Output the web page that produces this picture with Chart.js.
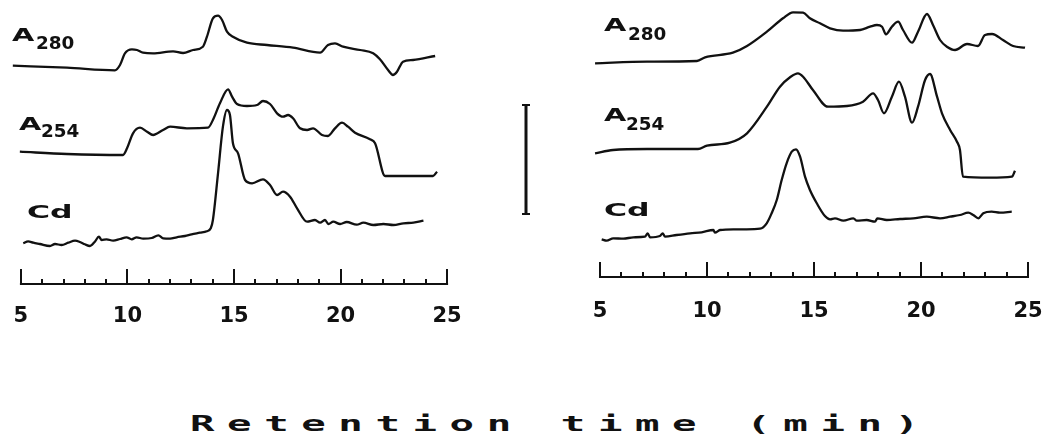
<!DOCTYPE html>
<html>
<head>
<meta charset="utf-8">
<script src="https://cdn.jsdelivr.net/npm/chart.js@4.4.1/dist/chart.umd.min.js"></script>
<style>
  html, body { margin: 0; padding: 0; background: #fff; width: 1054px; height: 435px; overflow: hidden; }
  #page { position: relative; width: 1054px; height: 435px; }
  canvas { position: absolute; top: 0; }
  .lbl { position: absolute; white-space: nowrap; color: #111; font-family: "DejaVu Sans"; font-weight: bold;
         line-height: 1; transform-origin: 0 0; }
  #title { position: absolute; white-space: nowrap; color: #111; font-family: "DejaVu Sans Mono"; font-weight: bold;
           line-height: 1; transform-origin: 0 0; }
</style>
</head>
<body>
<div id="page">
  <canvas id="leftChart" width="540" height="345" style="left:0px"></canvas>
  <canvas id="rightChart" width="494" height="345" style="left:560px"></canvas>
</div>
<script>
// ---------------- DATA ----------------
// Retention time axis
const X_MIN = 4.3, X_MAX = 25.7;
const TICK_VALUES = [5,6,7,8,9,10,11,12,13,14,15,16,17,18,19,20,21,22,23,24,25];
const LABELED_TICKS = [5, 10, 15, 20, 25];
const TRACE_NAMES = [['A', '280'], ['A', '254'], ['Cd', '']];
const AXIS_TITLE = 'Retention time (min)';

// Left panel traces (time in min, signal in arbitrary detector units)
const LEFT_A280_T = [4.62,7.16,9.41,9.65,9.88,10.21,10.45,10.73,11.20,12.14,12.61,13.08,13.54,13.73,14.01,14.25,14.44,14.67,14.95,15.61,16.55,17.77,19.04,19.41,19.74,20.12,20.92,21.53,21.85,22.23,22.46,22.65,22.93,23.40,24.44];
const LEFT_A280_V = [4.3,2.3,-0.3,5,16.7,20.7,20,17.3,16.7,18.7,17,20,23.3,33.3,51.7,54.3,50,38.3,33.3,27.3,25,22.3,17.3,25,26.7,23.3,20,16.7,10.7,0,-5,-1.7,8.3,10,14];

const LEFT_A254_T = [4.95,7.16,9.79,9.98,10.26,10.59,10.92,11.20,11.67,12.00,12.79,13.78,14.01,14.34,14.72,14.91,15.14,15.61,16.08,16.36,16.69,17.02,17.30,17.54,17.77,18.10,18.43,18.71,19.13,19.41,19.74,20.07,20.35,20.68,21.38,21.62,22.09,24.34,24.53];
const LEFT_A254_V = [3.3,1,0,6.7,21.7,27.3,23.3,20,25,28.3,26.7,27.3,35,51.7,65.7,58.3,51,49,50,54,51,41.7,38.3,40,36.7,26.7,25,26.7,20,19,26.7,32.3,28.3,22.3,15.7,11.7,-21,-21,-16.7];

const LEFT_CD_T = [5.11,5.34,5.58,5.89,6.36,6.60,6.91,7.22,7.54,7.77,8.00,8.24,8.47,8.66,8.79,9.02,9.33,9.65,9.96,10.20,10.43,10.74,11.14,11.45,11.68,12.00,12.31,12.70,13.01,13.40,13.72,13.91,14.01,14.25,14.48,14.67,14.81,14.95,15.19,15.52,15.85,16.36,16.69,17.02,17.30,17.63,17.96,18.43,18.80,19.04,19.27,19.43,19.66,19.98,20.29,20.76,21.07,21.54,22.01,22.48,22.95,23.42,23.89,24.44];
const LEFT_CD_V = [-3.3,-1.3,-2.7,-4,-6,-4,-5,-2.7,-0.7,-2,-4.3,-6,-1.7,3.3,0,0.7,-0.7,1,2.7,0.7,2.7,1.3,2,4.7,1.7,1.3,2.7,4,5.7,7.3,8.7,11.7,20,66.7,113.3,130,125,96.7,86.7,60,56.7,60.7,55,45,48.3,43.3,31.7,18.3,20,17.3,20,16,18.3,16,18,15.3,17.3,15,16,15,16.7,17.3,19.3];

// Right panel traces
const RIGHT_A280_T = [4.77,7.20,9.53,9.91,11.21,11.87,12.80,13.55,14.02,14.49,14.81,15.28,15.75,16.36,17.15,17.62,17.94,18.18,18.36,18.64,18.93,19.16,19.58,19.86,20.28,20.56,20.89,21.21,21.59,22.15,22.66,22.99,23.32,23.83,24.30,24.86];
const RIGHT_A280_V = [-1.3,0.3,1,4.7,9.3,16,30.3,43.7,49.7,49.3,43.7,38.7,33.7,31.3,32,35.3,37,35.3,27.7,35.3,40.3,32,19.3,30.3,48,37,22,15.3,12,18,16,27,28,22,16,14.3];

const RIGHT_A254_T = [4.77,5.61,7.20,9.58,10.00,11.07,11.87,12.80,13.41,13.88,14.25,14.49,14.95,15.65,16.54,17.29,17.76,17.99,18.27,18.64,18.97,19.25,19.58,19.86,20.19,20.42,20.75,20.98,21.36,21.68,21.82,21.96,23.22,24.25,24.39];
const RIGHT_A254_V = [-3.3,0,1,1,4.3,7.3,16.7,43.3,63.3,72.7,76.7,73.3,60,43.3,44,48.3,56.7,50,36.7,53.3,68.3,53.3,27.3,43.3,70,76,53.3,36.7,20,8.3,0,-26.7,-27.7,-26.7,-20.7];

const RIGHT_CD_T = [5.08,5.31,5.62,6.09,6.56,7.10,7.23,7.34,7.80,7.93,8.04,8.58,9.21,9.75,10.30,10.37,10.61,11.23,11.85,12.48,12.79,13.02,13.26,13.49,13.72,13.96,14.16,14.35,14.58,14.81,15.13,15.51,15.75,15.98,16.37,16.84,17.00,17.46,17.85,17.96,18.40,19.02,19.64,20.27,20.89,21.36,21.82,22.21,22.44,22.68,22.91,23.30,23.69,24.24];
const RIGHT_CD_V = [-4.3,-5.7,-3.3,-3.7,-2.3,-1.7,1.7,-2.3,-1,1.7,-1.7,0,1.7,2.7,5,2.3,5,5.7,5.7,6.3,11.7,21.7,35,55,71.7,83.3,85.7,78.3,58.3,45,31.7,19,15.7,16.7,14.3,16.7,14.3,15,13.3,16.7,15,16,16.7,18.3,16.7,18.3,20,22.3,20,16.7,21.7,23.3,22.3,23.3];

// Vertical scale bar (detector units)
const SCALE_BAR_UNITS = 109;

// ---------------- LAYOUT / STYLE ----------------
const INK = '#111';
const LINE_W = 2.3;
const LEFT_LAYOUT = { padLeft: 6, padRight: 78, plotTop: 284, canvasH: 345, tickPad: 20,
  offsets: [214, 129, 44], scaleBar: { t: 28.7, base: 70 } };
const RIGHT_LAYOUT = { padLeft: 25, padRight: 11, plotTop: 277, canvasH: 345, tickPad: 22,
  offsets: [215, 127, 42], scaleBar: null };

const axisPlugin = {
  id: 'tickAxis',
  afterDatasetsDraw(chart, args, opts) {
    const xs = chart.scales.x, ys = chart.scales.y, ctx = chart.ctx;
    const y0 = ys.getPixelForValue(0);
    ctx.save();
    ctx.strokeStyle = INK;
    ctx.lineWidth = 2;
    ctx.beginPath();
    const first = xs.ticks[0].value, last = xs.ticks[xs.ticks.length - 1].value;
    ctx.moveTo(xs.getPixelForValue(first) - 1, y0);
    ctx.lineTo(xs.getPixelForValue(last) + 1, y0);
    xs.ticks.forEach(t => {
      const px = Math.round(xs.getPixelForValue(t.value));
      const major = LABELED_TICKS.includes(t.value);
      ctx.moveTo(px, y0);
      ctx.lineTo(px, y0 - (major ? 15 : 5));
    });
    ctx.stroke();
    if (opts && opts.scaleBar) {
      const sb = opts.scaleBar;
      const px = Math.round(xs.getPixelForValue(sb.t));
      const yb = ys.getPixelForValue(sb.base);
      const yt = ys.getPixelForValue(sb.base + SCALE_BAR_UNITS);
      ctx.lineWidth = 3;
      ctx.beginPath();
      ctx.moveTo(px, yb); ctx.lineTo(px, yt);
      ctx.stroke();
      ctx.lineWidth = 2;
      ctx.beginPath();
      ctx.moveTo(px - 4, yb); ctx.lineTo(px + 4, yb);
      ctx.moveTo(px - 4, yt); ctx.lineTo(px + 4, yt);
      ctx.stroke();
    }
    ctx.restore();
  }
};

function series(T, V, offset) {
  return {
    data: T.map((t, i) => ({ x: t, y: V[i] + offset })),
    borderColor: INK, borderWidth: LINE_W, pointRadius: 0, fill: false,
    cubicInterpolationMode: 'monotone', clip: false
  };
}

function makeChart(id, traces, L) {
  return new Chart(document.getElementById(id), {
    type: 'line',
    data: { datasets: traces.map((tr, i) => series(tr[0], tr[1], L.offsets[i])) },
    plugins: [axisPlugin],
    options: {
      responsive: false, animation: false, devicePixelRatio: 1, events: [],
      layout: { padding: { left: L.padLeft, right: L.padRight, top: 0, bottom: 0 } },
      plugins: { legend: { display: false }, tooltip: { enabled: false }, tickAxis: { scaleBar: L.scaleBar } },
      scales: {
        x: {
          type: 'linear', min: X_MIN, max: X_MAX, bounds: 'data',
          afterBuildTicks: s => { s.ticks = TICK_VALUES.map(v => ({ value: v })); },
          afterFit: s => { s.height = L.canvasH - L.plotTop; s.paddingLeft = 0; s.paddingRight = 0; },
          grid: { display: false, drawTicks: false },
          border: { display: false },
          ticks: {
            autoSkip: false, maxRotation: 0, minRotation: 0, padding: L.tickPad, color: INK,
            font: { family: '"DejaVu Sans"', weight: 'bold', size: 21 },
            callback: v => LABELED_TICKS.includes(v) ? String(v) : ''
          }
        },
        y: { type: 'linear', display: false, min: 0, max: L.plotTop }
      }
    }
  });
}

makeChart('leftChart', [[LEFT_A280_T, LEFT_A280_V], [LEFT_A254_T, LEFT_A254_V], [LEFT_CD_T, LEFT_CD_V]], LEFT_LAYOUT);
makeChart('rightChart', [[RIGHT_A280_T, RIGHT_A280_V], [RIGHT_A254_T, RIGHT_A254_V], [RIGHT_CD_T, RIGHT_CD_V]], RIGHT_LAYOUT);

// ---------------- TEXT LABELS ----------------
// [main x, main cap-top y, sub x, sub cap-top y]
const LABEL_POS = [
  [[13, 28, 37, 37], [20, 117, 42, 125], [28, 205]],
  [[605, 18, 629, 28], [605, 108, 627, 118], [605, 203]]
];
const page = document.getElementById('page');
function addText(txt, x, capTop, size, stretch) {
  const d = document.createElement('div');
  d.className = 'lbl';
  d.textContent = txt;
  d.style.fontSize = size + 'px';
  d.style.left = x + 'px';
  d.style.top = (capTop - 0.117 * size) + 'px';
  d.style.transform = 'scaleX(' + stretch + ')';
  page.appendChild(d);
}
LABEL_POS.forEach(panel => {
  panel.forEach((p, i) => {
    const [main, sub] = TRACE_NAMES[i];
    if (sub) {
      addText(main, p[0] - 1, p[1], 18, 1.6);
      addText(sub, p[2] - 1, p[3], 17, 1.08);
    } else {
      addText(main, p[0] - 1, p[1], 18, 1.75);
    }
  });
});
const title = document.createElement('div');
title.id = 'title';
title.textContent = AXIS_TITLE;
title.style.fontSize = '22px';
title.style.letterSpacing = '6.8px';
title.style.left = '190px';
title.style.top = '413px';
title.style.transform = 'scaleX(1.85)';
page.appendChild(title);
</script>
</body>
</html>
